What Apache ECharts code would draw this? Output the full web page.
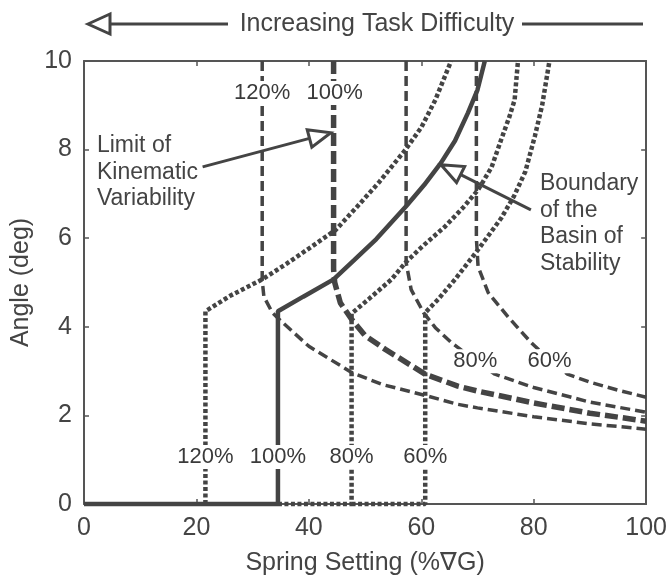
<!DOCTYPE html>
<html>
<head>
<meta charset="utf-8">
<script src="https://cdn.jsdelivr.net/npm/echarts@6/dist/echarts.min.js"></script>
<style>
  html, body { margin: 0; padding: 0; background: #fff; }
  #main { width: 670px; height: 581px; }
</style>
</head>
<body>
<div id="main"></div>
<script>
// axis ticks
var xTicks = [0, 20, 40, 60, 80, 100];
var yTicks = [0, 2, 4, 6, 8, 10];

// boundary of the basin of stability (dotted = 120/80/60 %, solid = 100 %)
var solid100 = [[0,0],[34.5,0],[34.5,4.35],[39,4.68],[44.4,5.07],[48,5.5],[52,5.98],[57.3,6.72],[60.5,7.2],[63.5,7.7],[66,8.2],[68.3,8.83],[70,9.35],[71.3,10]];
var dot120 = [[21.6,0],[21.6,4.35],[26,4.7],[31.7,5.07],[36,5.42],[40.5,5.81],[44.8,6.19],[48.5,6.7],[52.4,7.25],[57.2,8.0],[60,8.5],[62.5,9.12],[65.3,10]];
var dot80 = [[34.5,0],[47.6,0],[47.6,4.3],[50.6,4.62],[54.7,5.07],[57.2,5.45],[60.5,5.85],[64.2,6.26],[67.5,6.7],[70.1,7.09],[72.5,7.6],[74.2,8.22],[75.7,8.75],[76.6,9.12],[77.2,10]];
var dot60 = [[47.6,0],[60.7,0],[60.7,4.32],[63,4.62],[66,5.07],[70.1,5.74],[74.2,6.45],[76.5,6.95],[78.5,7.5],[80.2,8.3],[81.5,9.0],[82.8,10]];

// limit of kinematic variability (dashed)
var dash120 = [[31.7,10],[31.7,5.05],[32,4.68],[33.5,4.32],[35.3,4.1],[40,3.56],[47.6,2.97],[53,2.7],[60.7,2.45],[66.5,2.25],[70,2.17],[80,1.97],[90,1.81],[100,1.69]];
var dash100 = [[44.4,10],[44.4,5.3],[44.6,5.0],[45.6,4.54],[47.6,4.17],[50,3.8],[53.6,3.49],[60.7,2.93],[66.5,2.66],[70,2.55],[80,2.28],[90,2.05],[100,1.87]];
var dash80 = [[57.3,10],[57.3,5.45],[58.2,4.84],[60.4,4.32],[62.5,3.98],[65.3,3.65],[69,3.3],[73.1,2.93],[80,2.63],[90,2.3],[100,2.07]];
var dash60 = [[69.8,10],[69.8,6.0],[70.1,5.36],[71.9,4.77],[75.4,4.23],[79.5,3.65],[82,3.35],[86,2.93],[90,2.75],[95,2.57],[100,2.41]];

// percent labels [x, y, text]
var pctLabels = [
  [31.7, 9.28, '120%'], [44.6, 9.28, '100%'],
  [21.6, 1.06, '120%'], [34.5, 1.06, '100%'], [47.6, 1.06, '80%'], [60.7, 1.06, '60%'],
  [69.6, 3.22, '80%'], [82.8, 3.22, '60%']
];
// annotation text [x, y, text] and arrows [fromX, fromY, tipX, tipY]
var notes = [
  [2.3, 7.48, 'Limit of\nKinematic\nVariability'],
  [81.1, 6.33, 'Boundary\nof the\nBasin of\nStability']
];
var arrows = [
  [21.1, 7.61, 43.9, 8.38],
  [79.5, 6.64, 63.5, 7.66]
];

var ink = '#444';
var font = 'Liberation Sans, Arial, sans-serif';
var myChart = echarts.init(document.getElementById('main'));

function lineSeries(data, width, dash) {
  return {
    type: 'line', data: data, showSymbol: false, symbol: 'none', clip: false,
    lineStyle: { color: ink, width: width, type: dash, cap: 'butt' },
    z: 2, silent: true
  };
}

function axisBase(pos, showLabel, ticks) {
  return {
    type: 'value', position: pos,
    min: ticks[0], max: ticks[ticks.length - 1], interval: ticks[1] - ticks[0],
    axisLine: { show: true, onZero: false, lineStyle: { color: '#555', width: 2 } },
    axisTick: { show: true, inside: true, length: 5, lineStyle: { color: '#555', width: 1.5 } },
    axisLabel: { show: showLabel, fontSize: 25, color: ink, fontFamily: font, margin: 12 },
    splitLine: { show: false }
  };
}

var xBottom = axisBase('bottom', true, xTicks);
xBottom.name = 'Spring Setting (%\u2207G)';
xBottom.nameLocation = 'middle';
xBottom.nameGap = 47;
xBottom.nameTextStyle = { fontSize: 25, color: ink, fontFamily: font };
var yLeft = axisBase('left', true, yTicks);
yLeft.name = 'Angle (deg)';
yLeft.nameLocation = 'middle';
yLeft.nameGap = 50;
yLeft.nameTextStyle = { fontSize: 25, color: ink, fontFamily: font };

option = {
  animation: false,
  backgroundColor: '#fff',
  grid: { left: 84, right: 21, top: 61, bottom: 76 },
  xAxis: [xBottom, axisBase('top', false, xTicks)],
  yAxis: [yLeft, axisBase('right', false, yTicks)],
  series: [
    lineSeries(dot120, 4.5, [4, 2.5]),
    lineSeries(dot80, 4.5, [4, 2.5]),
    lineSeries(dot60, 4.5, [4, 2.5]),
    lineSeries(dash120, 3.5, [10, 5]),
    lineSeries(dash80, 3.5, [10, 5]),
    lineSeries(dash60, 3.5, [10, 5]),
    lineSeries(dash100, 5.5, [13, 5]),
    lineSeries(solid100, 4.5, 'solid'),
    {
      type: 'scatter', symbolSize: 0, z: 5, silent: true, clip: false,
      itemStyle: { opacity: 1 },
      data: pctLabels.map(function (p) { return { value: [p[0], p[1]], name: p[2] }; }),
      label: {
        show: true, position: 'inside', formatter: '{b}',
        fontSize: 22, color: '#3a3a3a', fontFamily: font,
        backgroundColor: '#fff', padding: [1, 2]
      }
    },
    {
      type: 'scatter', symbolSize: 0, z: 5, silent: true, clip: false,
      itemStyle: { opacity: 1 },
      data: notes.map(function (p) { return { value: [p[0], p[1]], name: p[2] }; }),
      label: {
        show: true, position: 'inside', align: 'left', formatter: '{b}',
        fontSize: 23, lineHeight: 26.5, color: ink, fontFamily: font
      }
    }
  ]
};
myChart.setOption(option);

// arrows with open triangle heads
function arrowGraphics(x0, y0, x1, y1, headLen, headHalf, width) {
  var dx = x1 - x0, dy = y1 - y0;
  var len = Math.sqrt(dx * dx + dy * dy);
  var ux = dx / len, uy = dy / len;
  var bx = x1 - ux * headLen, by = y1 - uy * headLen;
  var px = -uy, py = ux;
  return [
    { type: 'line', shape: { x1: x0, y1: y0, x2: bx, y2: by }, style: { stroke: ink, lineWidth: width }, z: 10 },
    { type: 'polygon', shape: { points: [[x1, y1], [bx + px * headHalf, by + py * headHalf], [bx - px * headHalf, by - py * headHalf]] },
      style: { fill: '#fff', stroke: ink, lineWidth: width }, z: 10 }
  ];
}

var graphics = [];
arrows.forEach(function (a) {
  var p0 = myChart.convertToPixel({ xAxisIndex: 0, yAxisIndex: 0 }, [a[0], a[1]]);
  var p1 = myChart.convertToPixel({ xAxisIndex: 0, yAxisIndex: 0 }, [a[2], a[3]]);
  graphics = graphics.concat(arrowGraphics(p0[0], p0[1], p1[0], p1[1], 22, 9, 3));
});

// heading: Increasing Task Difficulty with arrow to the left
graphics.push({ type: 'text', x: 377, y: 24, z: 10,
  style: { text: 'Increasing Task Difficulty', fontSize: 25, fill: ink, fontFamily: font, align: 'center', verticalAlign: 'middle' } });
graphics = graphics.concat(arrowGraphics(228, 24, 88, 24, 22, 10, 3));
graphics.push({ type: 'line', z: 10, shape: { x1: 522, y1: 24, x2: 643, y2: 24 }, style: { stroke: ink, lineWidth: 3 } });

myChart.setOption({ graphic: graphics });
</script>
</body>
</html>
